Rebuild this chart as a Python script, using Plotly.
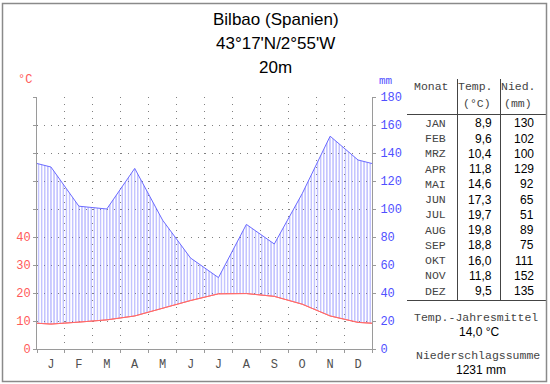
import plotly.graph_objects as go

# ---------------- data ----------------
month_letters = ["J", "F", "M", "A", "M", "J", "J", "A", "S", "O", "N", "D"]
month_names = ["JAN", "FEB", "MRZ", "APR", "MAI", "JUN", "JUL", "AUG", "SEP", "OKT", "NOV", "DEZ"]
temperature = [8.9, 9.6, 10.4, 11.8, 14.6, 17.3, 19.7, 19.8, 18.8, 16.0, 11.8, 9.5]
precipitation = [130, 102, 100, 129, 92, 65, 51, 89, 75, 111, 152, 135]
temp_tick_labels = [0, 10, 20, 30, 40]
prec_tick_labels = [0, 20, 40, 60, 80, 100, 120, 140, 160, 180]
title_lines = ["Bilbao (Spanien)", "43°17'N/2°55'W", "20m"]

# ---------------- layout constants ----------------
W, H = 550, 384
L, R, T, B = 37, 178, 97, 35
PW = W - L - R
PH = H - T - B

def pxx(x):
    return (x - L) / PW

def pxy(y):
    return (H - B - y) / PH

MONO = "Liberation Mono, Courier New, monospace"
SANS = "Liberation Sans, Arial, sans-serif"
RED = "#ff5a5a"
BLUE = "#5050ff"
AXC = "#9a9a9a"
GRIDC = "#808080"
TXT = "#444444"

# x positions: month centres plus the two diagram edges (year wraps Dec->Jan)
xc = [i + 0.5 for i in range(12)]
xs = [0] + xc + [12]
t_edge = (temperature[0] + temperature[-1]) / 2
p_edge = (precipitation[0] + precipitation[-1]) / 2
t_full = [t_edge] + temperature + [t_edge]
p_full = [p_edge] + precipitation + [p_edge]
p_scaled = [p / 2 for p in p_full]  # 10 °C = 20 mm

fig = go.Figure()
fig.add_trace(go.Scatter(x=xs, y=t_full, mode="lines",
                         line=dict(color="#ff6a6a", width=1), hoverinfo="skip"))
fig.add_trace(go.Scatter(x=xs, y=p_scaled, mode="lines", fill="tonexty",
                         fillcolor="rgba(0,0,0,0)",
                         fillpattern=dict(shape="|", fgcolor="#6464ff",
                                          bgcolor="rgba(255,255,255,0)",
                                          size=3.1, solidity=0.38),
                         line=dict(color="#6a6aff", width=1), hoverinfo="skip"))
fig.add_trace(go.Scatter(x=xs, y=t_full, mode="lines",
                         line=dict(color="#ff6a6a", width=1), hoverinfo="skip"))
fig.add_trace(go.Scatter(x=xs, y=p_full, mode="lines", yaxis="y2",
                         line=dict(color="rgba(0,0,0,0)", width=0),
                         hoverinfo="skip"))

yvals = list(range(0, 91, 10))
ytext = [str(v) if v in temp_tick_labels else "" for v in yvals]

fig.update_layout(
    width=W, height=H,
    margin=dict(l=L, r=R, t=T, b=B, pad=0),
    paper_bgcolor="white", plot_bgcolor="white",
    showlegend=False,
    xaxis=dict(range=[0, 12], showline=True, linecolor=AXC, linewidth=1,
               tickmode="array", tickvals=xc, ticktext=month_letters,
               ticks="", showgrid=False, zeroline=False,
               tickfont=dict(family=MONO, size=12, color="#505050"),
               ticklabelstandoff=4,
               minor=dict(tickmode="array", tickvals=list(range(13)),
                          ticks="outside", ticklen=3, tickcolor=AXC,
                          showgrid=True, gridcolor=GRIDC, gridwidth=1,
                          griddash="1px,6px")),
    yaxis=dict(range=[0, 90], tickmode="array", tickvals=yvals, ticktext=ytext,
               ticks="outside", ticklen=3, tickcolor=AXC,
               showline=True, linecolor=AXC, linewidth=1,
               showgrid=True, gridcolor=GRIDC, gridwidth=1, griddash="1px,6px",
               zeroline=False,
               tickfont=dict(family=MONO, size=12, color=RED)),
    yaxis2=dict(range=[0, 180], overlaying="y", side="right",
                tickmode="array", tickvals=prec_tick_labels,
                ticks="outside", ticklen=3, tickcolor=AXC,
                showline=True, linecolor=AXC, linewidth=1,
                showgrid=False, zeroline=False, ticklabelstandoff=2,
                tickfont=dict(family=MONO, size=12, color=BLUE)),
)

ann = []

def add_text(x, y, text, size, color, family, xanchor="center"):
    ann.append(dict(x=pxx(x), y=pxy(y), xref="paper", yref="paper",
                    text=text, showarrow=False, xanchor=xanchor,
                    yanchor="middle", borderpad=0,
                    font=dict(size=size, color=color, family=family)))

# title
for i, line in enumerate(title_lines):
    add_text(275.5, 19.5 + i * 23.8, line, 17, "black", SANS)

# axis unit labels
add_text(25, 80, "°C", 12, RED, MONO)
add_text(385.5, 81, "mm", 11, BLUE, MONO)

# table header
add_text(431, 87, "Monat", 11.5, TXT, MONO)
add_text(475, 87, "Temp.", 11.5, TXT, MONO)
add_text(477, 103, "(°C)", 11.5, TXT, MONO)
add_text(518, 87, "Nied.", 11.5, TXT, MONO)
add_text(518, 103, "(mm)", 11.5, TXT, MONO)

row0, rstep = 123.3, 15.25
for i in range(12):
    y = row0 + i * rstep
    add_text(435, y, month_names[i], 11.5, TXT, MONO)
    add_text(493, y, f"{temperature[i]:.1f}".replace(".", ","), 12, "black", SANS, "right")
    add_text(535, y, str(precipitation[i]), 12, "black", SANS, "right")

mean_t = sum(temperature) / len(temperature)
sum_p = sum(precipitation)
add_text(476, 317, "Temp.-Jahresmittel", 11.5, TXT, MONO)
add_text(479, 331.5, f"{mean_t:.1f}".replace(".", ",") + " °C", 12, "black", SANS)
add_text(477.5, 355, "Niederschlagssumme", 11.5, TXT, MONO)
add_text(481, 370, f"{sum_p} mm", 12, "black", SANS)

fig.update_layout(annotations=ann)

shapes = []

def line(x0, y0, x1, y1, color="#444444", width=1):
    shapes.append(dict(type="line", xref="paper", yref="paper",
                       x0=pxx(x0), y0=pxy(y0), x1=pxx(x1), y1=pxy(y1),
                       line=dict(color=color, width=width)))

line(457.5, 79, 457.5, 301)
line(500.5, 79, 500.5, 301)
line(407, 114.5, 547, 114.5)
line(407, 300.5, 547, 300.5)

# outer frame
shapes.append(dict(type="rect", xref="paper", yref="paper",
                   x0=pxx(2.5), y0=pxy(3.5), x1=pxx(546.5), y1=pxy(381.5),
                   line=dict(color="#8a8a8a", width=1.5)))

fig.update_layout(shapes=shapes)

fig.write_html("out.html",
               config={"displayModeBar": False},
               post_script="document.body.style.margin='0';document.body.style.padding='0';document.body.style.overflow='hidden';")
